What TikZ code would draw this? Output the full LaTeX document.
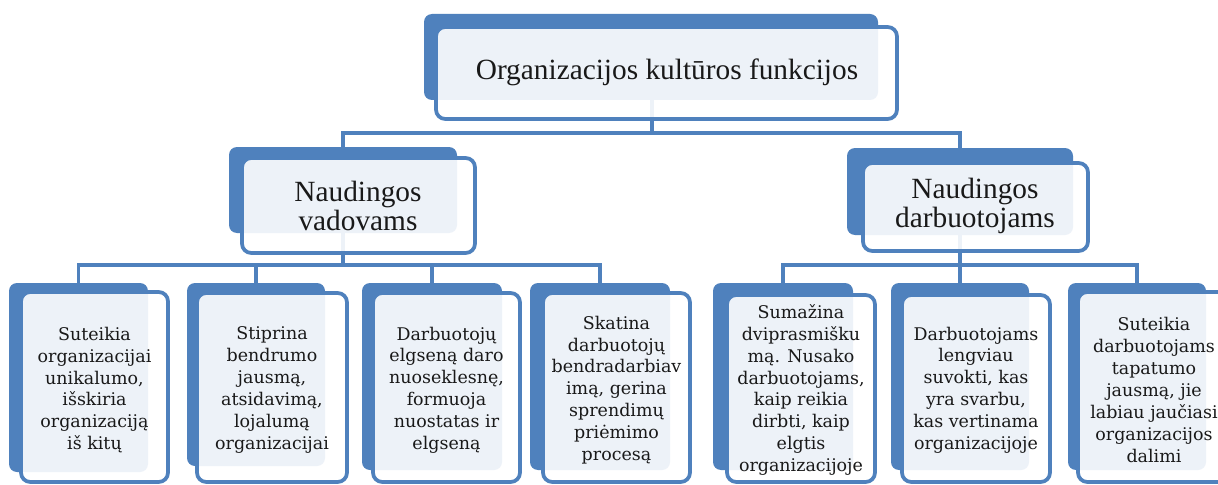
\documentclass[tikz,border=0pt]{standalone}
\usepackage{fontspec}
\setmainfont{Liberation Serif}
\newfontfamily\slabfont{DejaVu Serif}
\usetikzlibrary{fit}
\definecolor{accent}{HTML}{4F81BD}
\pgfdeclarelayer{wires}
\pgfsetlayers{wires,main}
\tikzset{
  backbox/.style={fill=accent, draw=none, rounded corners=6pt, inner sep=0pt},
  frontbox/.style={fill=white, fill opacity=0.9, draw=accent, line width=2.8pt, rounded corners=7pt, inner sep=0pt},
  conn/.style={draw=accent, line width=2.6pt},
  headtext/.style={font=\fontsize{22}{21.3}\selectfont, align=center, text=black!90, inner sep=0pt},
  leaftext/.style={font=\slabfont\fontsize{13.1}{16.4}\selectfont, align=center, text=black!90, inner sep=0pt}
}
\begin{document}
\begin{tikzpicture}[x=0.75pt, y=-0.75pt]
  \useasboundingbox (0,0) rectangle (1218,485);
  \begin{pgfonlayer}{wires}
    \fill[white] (0,0) rectangle (1218,485);
  \end{pgfonlayer}
  \clip (0,0) rectangle (1218,485);

  % top level
  \node[backbox, fit={(424,14) (878,100)}] (btop) {};
  \node[frontbox, fit={(436,27) (897,119)}] (ftop) {};
  \node[headtext] (ttop) at (667,72) {Organizacijos kultūros funkcijos};

  % second level
  \node[backbox, fit={(229,147) (457,233)}] (bmidL) {};
  \node[frontbox, fit={(242,158) (475,253)}] (fmidL) {};
  \node[headtext] (tmidL) at (358,206) {Naudingos\\vadovams};

  \node[backbox, fit={(847,148) (1073,235)}] (bmidR) {};
  \node[frontbox, fit={(863,163) (1088,251)}] (fmidR) {};
  \node[headtext] (tmidR) at (975,206) {Naudingos\\darbuotojams};

  % third level, left branch
  \node[backbox, fit={(9,283) (148,472)}] (b1) {};
  \node[frontbox, fit={(21,292) (168,482)}] (f1) {};
  \node[leaftext] (t1) at (94.5,390) {Suteikia\\organizacijai\\unikalumo,\\išskiria\\organizaciją\\iš kitų};

  \node[backbox, fit={(187,283) (325,466)}] (b2) {};
  \node[frontbox, fit={(197,293) (347,482)}] (f2) {};
  \node[leaftext] (t2) at (272,390) {Stiprina\\bendrumo\\jausmą,\\atsidavimą,\\lojalumą\\organizacijai};

  \node[backbox, fit={(362,283) (502,470)}] (b3) {};
  \node[frontbox, fit={(373,293) (520,482)}] (f3) {};
  \node[leaftext] (t3) at (446.5,390) {Darbuotojų\\elgseną daro\\nuoseklesnę,\\formuoja\\nuostatas ir\\elgseną};

  \node[backbox, fit={(530,283) (670,470)}] (b4) {};
  \node[frontbox, fit={(543,293) (690,482)}] (f4) {};
  \node[leaftext] (t4) at (616.5,390) {Skatina\\darbuotojų\\bendradarbiav\\imą, gerina\\sprendimų\\priėmimo\\procesą};

  % third level, right branch
  \node[backbox, fit={(713,283) (853,470)}] (b5) {};
  \node[frontbox, fit={(727,295) (875,482)}] (f5) {};
  \node[leaftext] (t5) at (801,390) {Sumažina\\dviprasmišku\\mą. Nusako\\darbuotojams,\\kaip reikia\\dirbti, kaip\\elgtis\\organizacijoje};

  \node[backbox, fit={(891,283) (1029,470)}] (b6) {};
  \node[frontbox, fit={(902,295) (1050,482)}] (f6) {};
  \node[leaftext] (t6) at (976,390) {Darbuotojams\\lengviau\\suvokti, kas\\yra svarbu,\\kas vertinama\\organizacijoje};

  \node[backbox, fit={(1068,283) (1206,470)}] (b7) {};
  \node[frontbox, fit={(1078,292) (1228,482)}] (f7) {};
  \node[leaftext] (t7) at (1154,390) {Suteikia\\darbuotojams\\tapatumo\\jausmą, jie\\labiau jaučiasi\\organizacijos\\dalimi};

  % junction points of the connector buses
  \coordinate (busTop) at (652,133);
  \coordinate (busL) at (343,265);
  \coordinate (busR) at (960,265);

  \begin{pgfonlayer}{wires}
    \draw[conn] (ftop.center -| busTop) -- (busTop);
    \draw[conn] (bmidL.center) |- (busTop) -| (bmidR.center);

    \draw[conn] (bmidL.center) -- (busL);
    \draw[conn] (b1.center) |- (busL) -| (b4.center);
    \draw[conn] (b2.center) -- (b2.center |- busL);
    \draw[conn] (b3.center) -- (b3.center |- busL);

    \draw[conn] (bmidR.center) -- (busR);
    \draw[conn] (b5.center) |- (busR) -| (b7.center);
    \draw[conn] (b6.center) -- (b6.center |- busR);
  \end{pgfonlayer}
\end{tikzpicture}
\end{document}
